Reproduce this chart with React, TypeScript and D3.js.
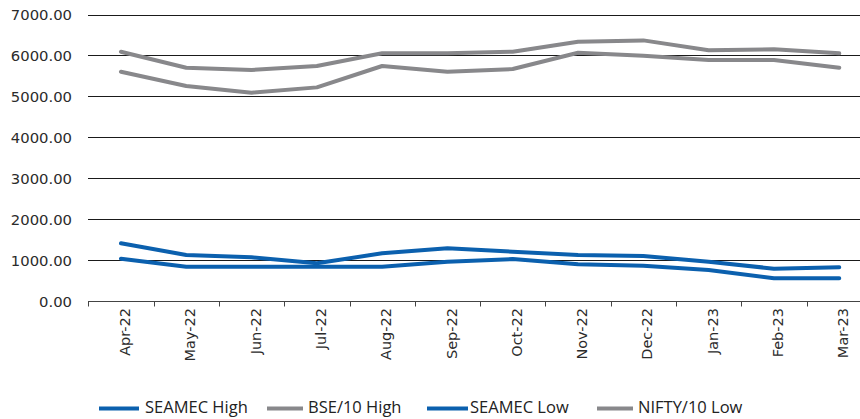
import React from "react";
import * as d3 from "d3";

const months = ["Apr-22","May-22","Jun-22","Jul-22","Aug-22","Sep-22","Oct-22","Nov-22","Dec-22","Jan-23","Feb-23","Mar-23"];
const seamecHigh = [1426,1140,1084,937,1182,1304,1221,1140,1116,977,806,840];
const bseHigh = [6103,5713,5657,5755,6064,6064,6103,6348,6380,6137,6162,6064];
const seamecLow = [1050,855,855,855,855,977,1042,913,879,774,571,571];
const niftyLow = [5615,5266,5103,5233,5755,5615,5681,6079,6006,5901,5901,5713];
const yTicks = [0,1000,2000,3000,4000,5000,6000,7000];

const BLUE = "#0b60ae";
const GRAY = "#88888b";

const series = [
  { name: "SEAMEC High", values: seamecHigh, color: BLUE },
  { name: "BSE/10 High", values: bseHigh, color: GRAY },
  { name: "SEAMEC Low", values: seamecLow, color: BLUE },
  { name: "NIFTY/10 Low", values: niftyLow, color: GRAY },
];

const legendPos = [
  { sx: 99, ex: 139, tx: 145 },
  { sx: 267, ex: 303, tx: 308 },
  { sx: 427, ex: 468, tx: 470 },
  { sx: 597, ex: 633, tx: 638 },
];

export default function App() {
  const W = 860, H = 419;
  const x = d3.scaleBand<string>().domain(months).range([88.3, 88.3 + 12 * 65.3]).padding(0);
  const y = d3.scaleLinear().domain([0, 7000]).range([301.7, 15]);
  const line = d3.line<number>()
    .x((_, i) => (x(months[i]) as number) + x.bandwidth() / 2)
    .y((v) => y(v));
  const font = "'DejaVu Sans', sans-serif";
  const gy = (t: number) => Math.floor(y(t)) + 0.5;
  return (
    <svg width={W} height={H} style={{ position: "absolute", left: 0, top: 0, background: "#fff" }}>
      {yTicks.map((t) => (
        <g key={t}>
          {t > 0 && (
            <line x1={88} x2={W} y1={gy(t)} y2={gy(t)} stroke="#1a1a1a" strokeWidth={1} />
          )}
          <text x={72} y={y(t)} dy="0.36em" textAnchor="end" fontFamily={font} fontSize={14.8} fill="#2b2b2b">
            {t.toFixed(2)}
          </text>
        </g>
      ))}
      <line x1={88} x2={W} y1={gy(0)} y2={gy(0)} stroke="#444" strokeWidth={1} />
      {months.map((m) => (
        <line key={"t" + m} x1={Math.round(x(m) as number) + 0.5} x2={Math.round(x(m) as number) + 0.5} y1={gy(0)} y2={gy(0) + 5} stroke="#444" strokeWidth={1} />
      ))}
      {months.map((m) => {
        const cx = (x(m) as number) + x.bandwidth() / 2 + 4;
        return (
          <text key={m} transform={`translate(${cx},308) rotate(-90)`} textAnchor="end" dy="0.35em" fontFamily={font} fontSize={14.5} fill="#2b2b2b">
            {m}
          </text>
        );
      })}
      {series.map((s) => (
        <path key={s.name} d={line(s.values) as string} fill="none" stroke={s.color} strokeWidth={4} strokeLinejoin="round" strokeLinecap="round" />
      ))}
      {series.map((s, i) => (
        <g key={"lg" + s.name}>
          <line x1={legendPos[i].sx} x2={legendPos[i].ex} y1={408.5} y2={408.5} stroke={s.color} strokeWidth={4} />
          <text x={legendPos[i].tx} y={412.5} fontFamily="'Open Sans', sans-serif" fontSize={16.5} fill="#222">
            {s.name}
          </text>
        </g>
      ))}
    </svg>
  );
}
